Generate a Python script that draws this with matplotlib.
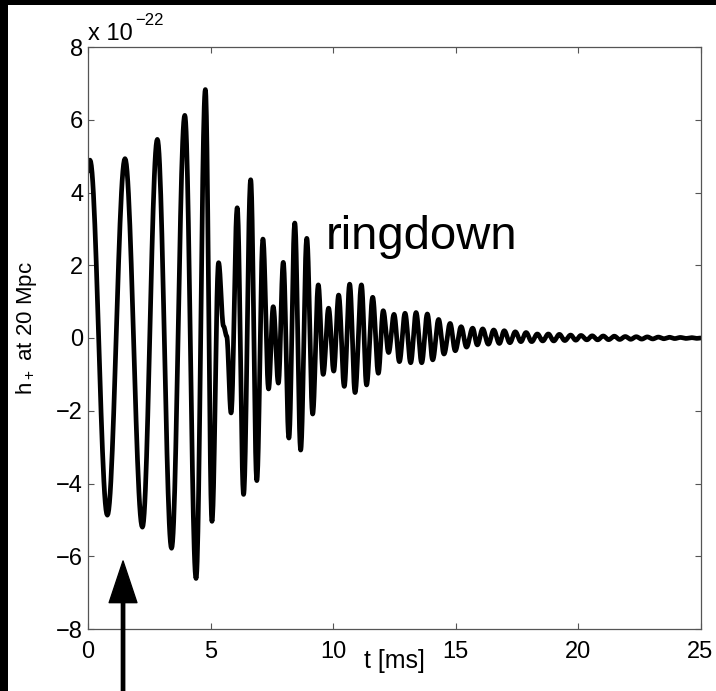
import numpy as np
import matplotlib
matplotlib.use("Agg")
import matplotlib.pyplot as plt
from matplotlib.patches import Rectangle

plt.rcParams['font.family'] = ['Liberation Sans', 'DejaVu Sans']
plt.rcParams['mathtext.fontset'] = 'custom'
plt.rcParams['mathtext.rm'] = 'Liberation Sans'
plt.rcParams['mathtext.default'] = 'regular'

# Extrema of the waveform (t in ms, h in units of 1e-22)
t_ext = [0.00, 0.08, 0.79, 1.51, 2.22, 2.83, 3.41, 3.95, 4.41, 4.79, 5.06, 5.33,
         5.53, 5.66, 5.84, 6.09, 6.35, 6.64, 6.89, 7.14, 7.37, 7.56, 7.77, 7.97,
         8.20, 8.44, 8.68, 8.93, 9.17, 9.40, 9.60, 9.82, 10.03, 10.23, 10.46, 10.68,
         10.90, 11.16, 11.37, 11.62, 11.85, 12.05, 12.27, 12.49, 12.71, 12.94, 13.17,
         13.39, 13.62, 13.85, 14.07, 14.31, 14.53, 14.78, 14.99, 15.23, 15.45, 15.70,
         15.89, 16.11, 16.34, 16.56, 16.79, 16.99, 17.22, 17.44, 17.67, 17.88, 18.11,
         18.34, 18.56, 18.79, 19.01, 19.24, 19.46, 19.70, 19.91, 20.12, 20.36, 20.58,
         20.80, 21.03, 21.25, 21.48, 21.70, 21.93, 22.15, 22.38, 22.60, 22.83, 23.05,
         23.28, 23.50, 23.73, 23.95, 24.18, 24.40, 24.63, 24.85, 25.00]
h_ext = [4.58, 4.89, -4.87, 4.93, -5.20, 5.46, -5.78, 6.12, -6.61, 6.83, -5.04, 2.07,
         0.33, 0.05, -2.06, 3.58, -4.30, 4.35, -3.92, 2.72, -1.40, 0.86, -1.24, 2.08,
         -2.75, 3.16, -3.08, 2.74, -2.09, 1.46, -1.00, 0.82, -0.91, 1.18, -1.33, 1.48,
         -1.50, 1.46, -1.29, 1.12, -0.97, 0.75, -0.40, 0.65, -0.65, 0.68, -0.68,
         0.70, -0.68, 0.66, -0.60, 0.51, -0.44, 0.40, -0.35, 0.31, -0.25, 0.27,
         -0.19, 0.25, -0.17, 0.22, -0.15, 0.20, -0.13, 0.17, -0.10, 0.15, -0.10,
         0.11, -0.08, 0.11, -0.08, 0.10, -0.07, 0.08, -0.06, 0.07, -0.05, 0.06,
         -0.05, 0.055, -0.045, 0.05, -0.04, 0.04, -0.035, 0.035, -0.03, 0.03, -0.025,
         0.025, -0.02, 0.02, -0.015, 0.015, -0.012, 0.01, -0.01, 0.0]

x_ticks = [0, 5, 10, 15, 20, 25]
y_ticks = [-8, -6, -4, -2, 0, 2, 4, 6, 8]

# smooth rendering between successive extrema (half-cosine segments)
tt, hh = [], []
for i in range(len(t_ext) - 1):
    s = np.linspace(0, 1, 25, endpoint=False)
    w = (1 - np.cos(np.pi * s)) / 2
    tt.append(t_ext[i] + (t_ext[i + 1] - t_ext[i]) * s)
    hh.append(h_ext[i] + (h_ext[i + 1] - h_ext[i]) * w)
tt.append([t_ext[-1]]); hh.append([h_ext[-1]])
tt = np.concatenate(tt); hh = np.concatenate(hh)

fig = plt.figure(figsize=(7.16, 6.91), dpi=100, facecolor='white')
ax = fig.add_axes([88/716, 62/691, 612.5/716, 582/691])
ax.plot(tt, hh, color='black', lw=3.4, solid_joinstyle='round', solid_capstyle='round')

ax.set_xlim(0, 25)
ax.set_ylim(-8, 8)
ax.set_xticks(x_ticks)
ax.set_yticks(y_ticks)
ax.set_xticklabels([str(v) for v in x_ticks])
ax.set_yticklabels([str(v).replace('-', '\u2212') for v in y_ticks])
ax.tick_params(direction='in', length=4.3, width=0.8, color='#555555',
               top=True, right=True, labelsize=17, labelcolor='black')
ax.tick_params(axis='x', pad=8.5)
ax.tick_params(axis='y', pad=3.5)
for sp in ax.spines.values():
    sp.set_color('#555555')
    sp.set_linewidth(0.9)

ax.set_xlabel('t [ms]', fontsize=18)
ax.xaxis.set_label_coords(0.5, -0.035)
ax.set_ylabel(r'h$_+$ at 20 Mpc', fontsize=16)
ax.yaxis.set_label_coords(-0.08, 0.517)

ax.text(0.0, 1.012, 'x 10', transform=ax.transAxes, fontsize=17, va='baseline', ha='left')
ax.text(0.0767, 1.0378, '\u221222', transform=ax.transAxes, fontsize=12, va='baseline', ha='left')

ax.text(9.7, 2.45, 'ringdown', fontsize=34, va='baseline', ha='left')

ax.annotate('', xy=(1.43, -6.13), xytext=(1.43, -9.8), annotation_clip=False,
            arrowprops=dict(facecolor='black', edgecolor='black', width=2.4,
                            headwidth=20, headlength=30, shrink=0))

fig.patches.append(Rectangle((0, 1 - 5/691), 1, 5/691, transform=fig.transFigure,
                             facecolor='black', edgecolor='none', zorder=10))
fig.patches.append(Rectangle((0, 0), 8/716, 1, transform=fig.transFigure,
                             facecolor='black', edgecolor='none', zorder=10))

fig.savefig('out.png', dpi=100, facecolor='white')
